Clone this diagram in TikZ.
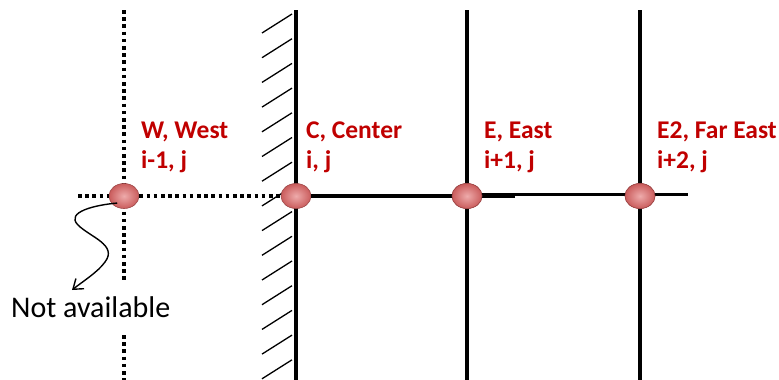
\documentclass[tikz,border=0pt]{standalone}
\usepackage{fontspec}
\setmainfont{Carlito}
\usetikzlibrary{shapes.geometric,arrows.meta}
\definecolor{lbl}{HTML}{C00000}
\definecolor{dotfill}{HTML}{E06666}
\tikzset{
  gridline/.style={line width=3.4pt},
  dotline/.style={line width=3.6pt, dash pattern=on 3.6pt off 3.6pt},
  hatchline/.style={line width=1.3pt},
  point/.style={ellipse, draw=dotfill!70!black, line width=0.6pt,
    inner color=dotfill!55!white, outer color=dotfill!90!black,
    minimum width=30pt, minimum height=25pt, inner sep=0pt},
  plabel/.style={text=lbl, font=\bfseries\fontsize{25.5}{30}\selectfont,
    align=left, anchor=base west, inner sep=0pt},
}
\begin{document}
\begin{tikzpicture}[x=1pt,y=-1pt]
\useasboundingbox (0,0) rectangle (779,380);

% column positions
\coordinate (wtop) at (124,10);
\coordinate (wbreak1) at (124,280);
\coordinate (wbreak2) at (124,335);
\coordinate (wbot) at (124,380);
\coordinate (ctop) at (296,10);
\coordinate (cbot) at (296,380);
\coordinate (etop) at (467,10);
\coordinate (ebot) at (467,380);
\coordinate (ftop) at (640,10);
\coordinate (fbot) at (640,380);
\coordinate (wleft) at (78,196);
\coordinate (eend) at (515,196);
\coordinate (fstart) at (480,194.5);
\coordinate (fend) at (688,194.5);

% wall hatching
\foreach \k in {0,...,14}
  \draw[hatchline] (262,{33+24.7*\k}) -- (292,{14+24.7*\k});

% dotted west column
\draw[dotline] (wtop) -- (wbreak1);
\draw[dotline] (wbreak2) -- (wbot);

% solid grid lines
\draw[gridline] (ctop) -- (cbot);
\draw[gridline] (etop) -- (ebot);
\draw[gridline] (ftop) -- (fbot);

% grid points
\node[point] (W) at (124,196) {};
\node[point] (C) at (296,196) {};
\node[point] (E) at (467,196) {};
\node[point] (E2) at (640,196) {};

\draw[dotline] (wleft) -- (W.west);
\draw[dotline] (W.east) -- (C.west);
\draw[gridline] (C.east) -- (eend);
\draw[gridline] (fstart) -- (fend);
\node[point] at (E) {};
\node[point] at (E2) {};

% labels (anchored at the baseline of the second line)
\node[plabel] (Wl) at (141,168) {W, West\\i-1, j};
\node[plabel] (Cl) at (306,168) {C, Center\\i, j};
\node[plabel] (El) at (484,168) {E, East\\i+1, j};
\node[plabel] (E2l) at (657,168) {E2, Far East\\i+2, j};

% note
\node[font=\fontsize{30}{34}\selectfont, anchor=base west, inner sep=0pt] (na) at (11,317) {Not available};
\draw[line width=1.4pt, -{Straight Barb[length=9pt,width=13pt]}]
  (W.south west) ++(4,-2)
  .. controls (95,205) and (65,212) .. (78,225)
  .. controls (90,237) and (118,245) .. (105,262)
  .. controls (98,272) and (82,282) .. (72,290);
\end{tikzpicture}
\end{document}
